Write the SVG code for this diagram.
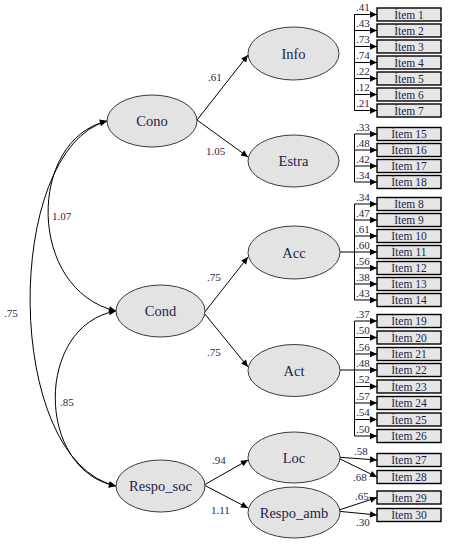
<svg xmlns="http://www.w3.org/2000/svg" width="449" height="557" viewBox="0 0 449 557" font-family="'Liberation Serif','DejaVu Serif',serif">
<style>
.lat{fill:#e3e3e3;stroke:#3a3a3a;stroke-width:1}
.box{fill:#e6e6e6;stroke:#000;stroke-width:1.4}
text{font-family:"Liberation Serif","DejaVu Serif",serif;fill:#1d1f4a}
.nl{font-size:14.5px;text-anchor:middle}
.il{font-size:11.5px;text-anchor:middle}
.v{font-size:11px}
.ln{fill:none;stroke:#000;stroke-width:1}
.ar{fill:none;stroke:#000;stroke-width:1;marker-end:url(#ah)}
.dbl{fill:none;stroke:#000;stroke-width:1;marker-start:url(#ah);marker-end:url(#ah)}
</style>
<defs>
<marker id="ah" viewBox="0 0 10 10" refX="10" refY="5" markerWidth="8" markerHeight="7" orient="auto-start-reverse" markerUnits="userSpaceOnUse">
<path d="M0,0.5 L10,5 L0,9.5 z" fill="#000"/>
</marker>
</defs>
<rect width="449" height="557" fill="#fff"/>

<g id="connectors">
<path class="dbl" d="M107,121 C27,140 27,290 116,311"/>
<path class="dbl" d="M107,121 C3,150 3,460 116,486"/>
<path class="dbl" d="M116,311 C35,325 35,470 116,486"/>
<path class="ar" d="M197,120 L248,55"/>
<path class="ar" d="M197,120 L248,157"/>
<path class="ar" d="M204,313 L248,257"/>
<path class="ar" d="M204,313 L248,367"/>
<path class="ar" d="M204,485 L248,460"/>
<path class="ar" d="M204,485 L248,508"/>
<path class="ln" d="M354.5,14.5 V110.5"/>
<path class="ln" d="M354.5,134 V182"/>
<path class="ln" d="M354.5,204 V300 M339.5,252 H354.5"/>
<path class="ln" d="M354.5,321 V436 M339.5,370 H354.5"/>
<path class="ar" d="M354.5,14.5 H377"/>
<path class="ar" d="M354.5,30.5 H377"/>
<path class="ar" d="M354.5,46.5 H377"/>
<path class="ar" d="M354.5,62.5 H377"/>
<path class="ar" d="M354.5,78.5 H377"/>
<path class="ar" d="M354.5,94.5 H377"/>
<path class="ar" d="M354.5,110.5 H377"/>
<path class="ar" d="M354.5,134 H377"/>
<path class="ar" d="M354.5,150 H377"/>
<path class="ar" d="M354.5,166 H377"/>
<path class="ar" d="M354.5,182 H377"/>
<path class="ar" d="M354.5,204 H377"/>
<path class="ar" d="M354.5,220 H377"/>
<path class="ar" d="M354.5,236 H377"/>
<path class="ar" d="M354.5,252 H377"/>
<path class="ar" d="M354.5,268 H377"/>
<path class="ar" d="M354.5,284 H377"/>
<path class="ar" d="M354.5,300 H377"/>
<path class="ar" d="M354.5,321 H377"/>
<path class="ar" d="M354.5,337.5 H377"/>
<path class="ar" d="M354.5,354 H377"/>
<path class="ar" d="M354.5,370 H377"/>
<path class="ar" d="M354.5,386.5 H377"/>
<path class="ar" d="M354.5,403 H377"/>
<path class="ar" d="M354.5,419.5 H377"/>
<path class="ar" d="M354.5,436 H377"/>
<path class="ar" d="M336,457 L377,460"/>
<path class="ar" d="M336,457 L377,477"/>
<path class="ar" d="M336,511 L377,497.5"/>
<path class="ar" d="M336,511 L377,515"/>
</g>

<g id="labels">
<text class="v" x="4" y="317">.75</text>
<text class="v" x="52" y="220">1.07</text>
<text class="v" x="60" y="406">.85</text>
<text class="v" x="208" y="81">.61</text>
<text class="v" x="206" y="155">1.05</text>
<text class="v" x="207" y="281">.75</text>
<text class="v" x="207" y="356">.75</text>
<text class="v" x="212" y="464">.94</text>
<text class="v" x="211" y="514">1.11</text>
<text class="v" x="356" y="11">.41</text>
<text class="v" x="356" y="27">.43</text>
<text class="v" x="356" y="43">.73</text>
<text class="v" x="356" y="59">.74</text>
<text class="v" x="356" y="75">.22</text>
<text class="v" x="356" y="91">.12</text>
<text class="v" x="356" y="107">.21</text>
<text class="v" x="356" y="130.5">.33</text>
<text class="v" x="356" y="146.5">.48</text>
<text class="v" x="356" y="162.5">.42</text>
<text class="v" x="356" y="178.5">.34</text>
<text class="v" x="356" y="200.5">.34</text>
<text class="v" x="356" y="216.5">.47</text>
<text class="v" x="356" y="232.5">.61</text>
<text class="v" x="356" y="248.5">.60</text>
<text class="v" x="356" y="264.5">.56</text>
<text class="v" x="356" y="280.5">.38</text>
<text class="v" x="356" y="296.5">.43</text>
<text class="v" x="356" y="317.5">.37</text>
<text class="v" x="356" y="334">.50</text>
<text class="v" x="356" y="350.5">.56</text>
<text class="v" x="356" y="366.5">.48</text>
<text class="v" x="356" y="383">.52</text>
<text class="v" x="356" y="399.5">.57</text>
<text class="v" x="356" y="416">.54</text>
<text class="v" x="356" y="432.5">.50</text>
<text class="v" x="354" y="455">.58</text>
<text class="v" x="353" y="481">.68</text>
<text class="v" x="355" y="500">.65</text>
<text class="v" x="356" y="526">.30</text>
</g>

<g id="Cono"><ellipse class="lat" cx="152" cy="121" rx="45" ry="26"/><text class="nl" x="152" y="126">Cono</text></g>
<g id="Cond"><ellipse class="lat" cx="160.5" cy="311" rx="44.5" ry="26"/><text class="nl" x="160.5" y="316">Cond</text></g>
<g id="Respo_soc"><ellipse class="lat" cx="160.5" cy="486" rx="44.5" ry="26"/><text class="nl" x="160.5" y="491">Respo_soc</text></g>
<g id="Info"><ellipse class="lat" cx="293.5" cy="53.5" rx="45.5" ry="26.5"/><text class="nl" x="293.5" y="58.5">Info</text></g>
<g id="Estra"><ellipse class="lat" cx="293.5" cy="161" rx="45.5" ry="26"/><text class="nl" x="293.5" y="166">Estra</text></g>
<g id="Acc"><ellipse class="lat" cx="294" cy="252.5" rx="46" ry="26.5"/><text class="nl" x="294" y="257.5">Acc</text></g>
<g id="Act"><ellipse class="lat" cx="294" cy="370.5" rx="46" ry="26"/><text class="nl" x="294" y="375.5">Act</text></g>
<g id="Loc"><ellipse class="lat" cx="294" cy="457.5" rx="46" ry="25.5"/><text class="nl" x="294" y="462.5">Loc</text></g>
<g id="Respo_amb"><ellipse class="lat" cx="294" cy="512.5" rx="46" ry="25.5"/><text class="nl" x="294" y="517.5">Respo_amb</text></g>

<g id="item1"><rect class="box" x="377" y="8" width="64" height="13"/><text class="il" x="409" y="18.5">Ítem 1</text></g>
<g id="item2"><rect class="box" x="377" y="24" width="64" height="13"/><text class="il" x="409" y="34.5">Ítem 2</text></g>
<g id="item3"><rect class="box" x="377" y="40" width="64" height="13"/><text class="il" x="409" y="50.5">Ítem 3</text></g>
<g id="item4"><rect class="box" x="377" y="56" width="64" height="13"/><text class="il" x="409" y="66.5">Ítem 4</text></g>
<g id="item5"><rect class="box" x="377" y="72" width="64" height="13"/><text class="il" x="409" y="82.5">Ítem 5</text></g>
<g id="item6"><rect class="box" x="377" y="88" width="64" height="13"/><text class="il" x="409" y="98.5">Ítem 6</text></g>
<g id="item7"><rect class="box" x="377" y="104" width="64" height="13"/><text class="il" x="409" y="114.5">Ítem 7</text></g>
<g id="item15"><rect class="box" x="377" y="127.5" width="64" height="13"/><text class="il" x="409" y="138">Ítem 15</text></g>
<g id="item16"><rect class="box" x="377" y="143.5" width="64" height="13"/><text class="il" x="409" y="154">Ítem 16</text></g>
<g id="item17"><rect class="box" x="377" y="159.5" width="64" height="13"/><text class="il" x="409" y="170">Ítem 17</text></g>
<g id="item18"><rect class="box" x="377" y="175.5" width="64" height="13"/><text class="il" x="409" y="186">Ítem 18</text></g>
<g id="item8"><rect class="box" x="377" y="197.5" width="64" height="13"/><text class="il" x="409" y="208">Ítem 8</text></g>
<g id="item9"><rect class="box" x="377" y="213.5" width="64" height="13"/><text class="il" x="409" y="224">Ítem 9</text></g>
<g id="item10"><rect class="box" x="377" y="229.5" width="64" height="13"/><text class="il" x="409" y="240">Ítem 10</text></g>
<g id="item11"><rect class="box" x="377" y="245.5" width="64" height="13"/><text class="il" x="409" y="256">Ítem 11</text></g>
<g id="item12"><rect class="box" x="377" y="261.5" width="64" height="13"/><text class="il" x="409" y="272">Ítem 12</text></g>
<g id="item13"><rect class="box" x="377" y="277.5" width="64" height="13"/><text class="il" x="409" y="288">Ítem 13</text></g>
<g id="item14"><rect class="box" x="377" y="293.5" width="64" height="13"/><text class="il" x="409" y="304">Ítem 14</text></g>
<g id="item19"><rect class="box" x="377" y="314.5" width="64" height="13"/><text class="il" x="409" y="325">Ítem 19</text></g>
<g id="item20"><rect class="box" x="377" y="331" width="64" height="13"/><text class="il" x="409" y="341.5">Ítem 20</text></g>
<g id="item21"><rect class="box" x="377" y="347.5" width="64" height="13"/><text class="il" x="409" y="358">Ítem 21</text></g>
<g id="item22"><rect class="box" x="377" y="363.5" width="64" height="13"/><text class="il" x="409" y="374">Ítem 22</text></g>
<g id="item23"><rect class="box" x="377" y="380" width="64" height="13"/><text class="il" x="409" y="390.5">Ítem 23</text></g>
<g id="item24"><rect class="box" x="377" y="396.5" width="64" height="13"/><text class="il" x="409" y="407">Ítem 24</text></g>
<g id="item25"><rect class="box" x="377" y="413" width="64" height="13"/><text class="il" x="409" y="423.5">Ítem 25</text></g>
<g id="item26"><rect class="box" x="377" y="429.5" width="64" height="13"/><text class="il" x="409" y="440">Ítem 26</text></g>
<g id="item27"><rect class="box" x="377" y="453.5" width="64" height="13"/><text class="il" x="409" y="464">Ítem 27</text></g>
<g id="item28"><rect class="box" x="377" y="470.5" width="64" height="13"/><text class="il" x="409" y="481">Ítem 28</text></g>
<g id="item29"><rect class="box" x="377" y="491" width="64" height="13"/><text class="il" x="409" y="501.5">Ítem 29</text></g>
<g id="item30"><rect class="box" x="377" y="508.5" width="64" height="13"/><text class="il" x="409" y="519">Ítem 30</text></g>
</svg>
